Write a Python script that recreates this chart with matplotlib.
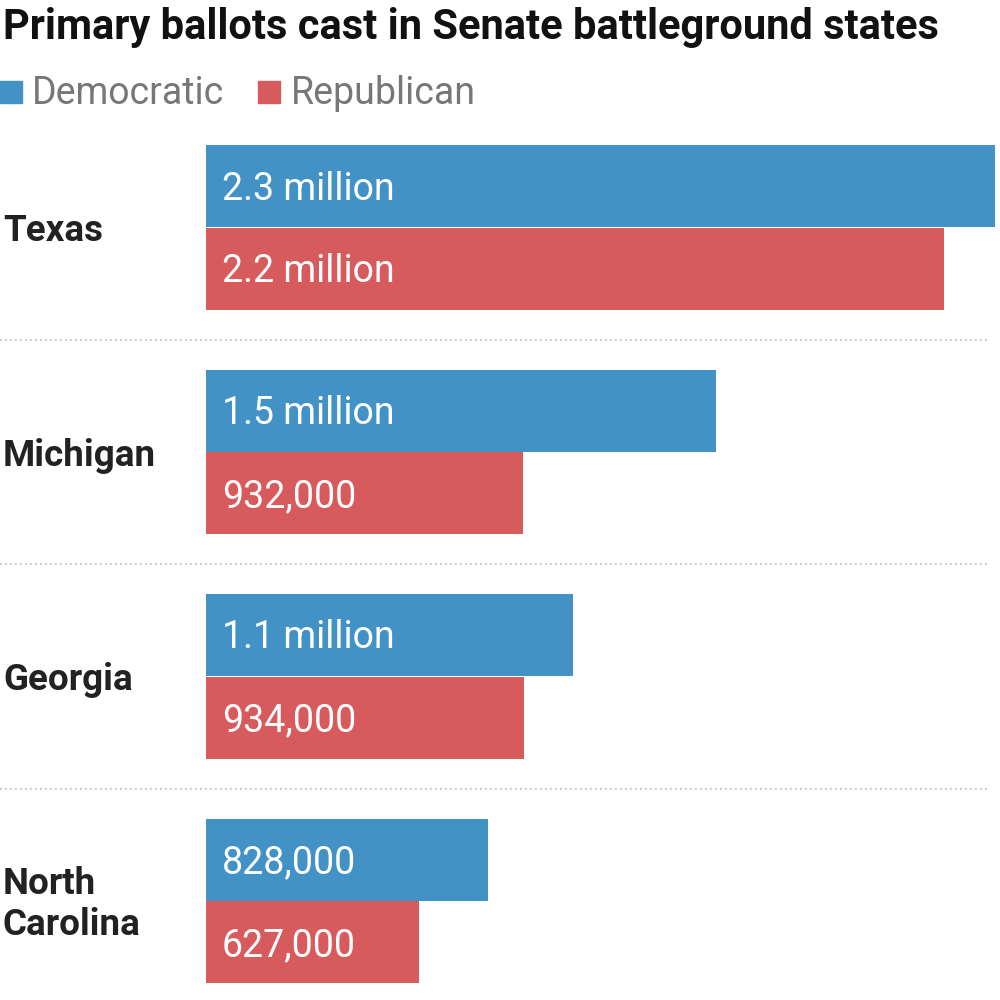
import matplotlib
matplotlib.use("Agg")
import matplotlib.pyplot as plt

states = ["Texas", "Michigan", "Georgia", "North\nCarolina"]
dem = [2320000, 1500000, 1080000, 828000]
rep = [2170000, 932000, 934000, 627000]
dem_labels = ["2.3 million", "1.5 million", "1.1 million", "828,000"]
rep_labels = ["2.2 million", "932,000", "934,000", "627,000"]

BLUE = "#4292c6"
RED = "#d75a5c"
plt.rcParams['font.family'] = ['Roboto', 'DejaVu Sans']

fig = plt.figure(figsize=(10, 10), dpi=100)
ax = fig.add_axes([0.206, 0, 0.789, 1])
ax.set_xlim(0, dem[0])
ax.set_ylim(1000, 0)
ax.axis("off")

for i, s in enumerate(states):
    top = 145 + i * 224.5
    ax.barh(top + 41, dem[i], height=82, color=BLUE, left=0)
    ax.barh(top + 123.5, rep[i], height=82, color=RED, left=0)
    ax.text(dem[0] * 16 / 789, top + 44, dem_labels[i], color="white", fontsize=27, va="center")
    ax.text(dem[0] * 16 / 789, top + 127, rep_labels[i], color="white", fontsize=27, va="center")
    fig.text(0.003, 1 - (top + 86) / 1000, s, fontsize=26.5, fontweight="bold", color="#222222",
             va="center", ha="left", linespacing=1.2)
    if i > 0:
        fig.add_artist(plt.Line2D([0, 0.99], [1 - (top - 30) / 1000] * 2, color="#bbbbbb",
                                  linestyle=(0, (1, 2)), linewidth=1.2))

fig.text(0.003, 0.973, "Primary ballots cast in Senate battleground states", fontsize=30,
         fontweight="bold", color="#111111", va="center")
fig.patches.append(plt.Rectangle((0.0, 0.897), 0.022, 0.022, color=BLUE, transform=fig.transFigure))
fig.text(0.032, 0.907, "Democratic", fontsize=27, color="#777777", va="center")
fig.patches.append(plt.Rectangle((0.258, 0.897), 0.022, 0.022, color=RED, transform=fig.transFigure))
fig.text(0.291, 0.907, "Republican", fontsize=27, color="#777777", va="center")

fig.savefig("out.png")
